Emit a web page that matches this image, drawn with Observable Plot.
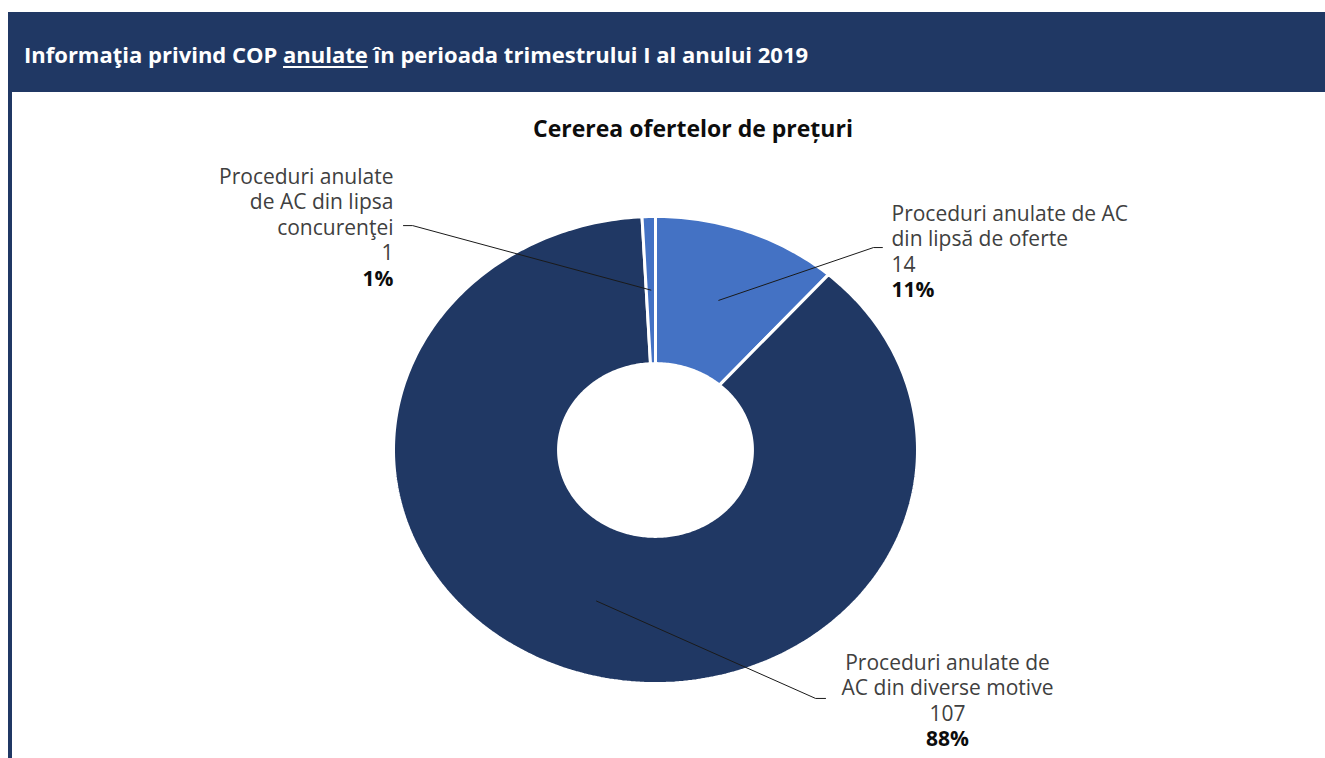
<!DOCTYPE html>
<html>
<head>
<meta charset="utf-8">
<script src="https://cdn.jsdelivr.net/npm/d3@7"></script>
<script src="https://cdn.jsdelivr.net/npm/@observablehq/plot@0.6"></script>
<style>
  html, body { margin: 0; padding: 0; background: #ffffff; overflow: hidden; }
  body { width: 1325px; height: 758px; position: relative; font-family: "Open Sans", sans-serif; }
  #header { position: absolute; left: 8px; top: 12px; width: 1301px; height: 80px; background: #203864;
            color: #fff; font-weight: 700; font-size: 22px; line-height: 84px; padding-left: 16px; white-space: nowrap; }
  #header u { text-decoration-thickness: 2px; text-underline-offset: 3px; }
  #leftbar { position: absolute; left: 8px; top: 92px; width: 4px; height: 666px; background: #203864; }
  #ctitle { position: absolute; left: 693px; top: 111px; transform: translateX(-50%); font-weight: 700;
            font-size: 23px; line-height: 34px; color: #0d0d0d; white-space: nowrap; }
  #chart { position: absolute; left: 12px; top: 140px; }
  #chart g[aria-label="text"] text tspan:last-child { font-weight: 700; fill: #0d0d0d; }
</style>
</head>
<body>
<div id="header">Informaţia privind COP <u>anulate</u> în perioada trimestrului I al anului 2019</div>
<div id="leftbar"></div>
<div id="ctitle">Cererea ofertelor de prețuri</div>
<div id="chart"></div>
<script>
// ---- data ----
const categories = [
  "Proceduri anulate de AC din lipsă de oferte",
  "Proceduri anulate de AC din diverse motive",
  "Proceduri anulate de AC din lipsa concurenţei"
];
const labelLines = [
  "Proceduri anulate de AC\ndin lipsă de oferte",
  "Proceduri anulate de\nAC din diverse motive",
  "Proceduri anulate\nde AC din lipsa\nconcurenţei"
];
const values = [14, 107, 1];
const colors = ["#4472c4", "#203864", "#4472c4"];

// ---- layout (unit-circle coordinates) ----
const W = 1313, H = 618, cx = 643, cy = 309.5, rx = 262, ry = 233.5;
const INNER = 0.37, OUTER = 1.0;
const LINE_PX = 25.5, FS = 21;
const labelLayout = [
  {x: 0.9008, y: 1.017, anchor: "start", start: [0.866, 0.867], elbow: [0.832, 0.867]},
  {x: 1.1145, y: -0.9058, anchor: "middle", start: [0.649, -1.064], elbow: [0.611, -1.064]},
  {x: -1.0, y: 1.1756, anchor: "end", start: [-0.962, 0.961], elbow: [-0.927, 0.961]}
];

const total = d3.sum(values);
const slices = [];
let acc = 0;
values.forEach((v, i) => {
  const a0 = acc / total * 2 * Math.PI;
  acc += v;
  const a1 = acc / total * 2 * Math.PI;
  slices.push({i, a0, a1, mid: (a0 + a1) / 2, value: v, pct: Math.round(v / total * 100) + "%"});
});

const pts = [];
for (const s of slices) {
  const N = Math.max(4, Math.ceil((s.a1 - s.a0) * 60));
  const ring = [];
  for (let k = 0; k <= N; k++) {
    const a = s.a0 + (s.a1 - s.a0) * k / N;
    ring.push({slice: s.i, x: OUTER * Math.sin(a), y: OUTER * Math.cos(a)});
  }
  for (let k = N; k >= 0; k--) {
    const a = s.a0 + (s.a1 - s.a0) * k / N;
    ring.push({slice: s.i, x: INNER * Math.sin(a), y: INNER * Math.cos(a)});
  }
  ring.push({...ring[0]});
  pts.push(ring);
}

const leaders = slices.map((s, i) => {
  const L = labelLayout[i];
  return [
    {slice: i, x: L.start[0], y: L.start[1]},
    {slice: i, x: L.elbow[0], y: L.elbow[1]},
    {slice: i, x: 0.685 * Math.sin(s.mid), y: 0.685 * Math.cos(s.mid)}
  ];
}).flat();

const labels = slices.map((s, i) => {
  const L = labelLayout[i];
  const text = labelLines[i] + "\n" + s.value + "\n" + s.pct;
  return {x: L.x, y: L.y, anchor: L.anchor, text, lines: text.split("\n").length};
});

const marks = [];
pts.forEach((ring, i) => {
  marks.push(Plot.line(ring, {x: "x", y: "y", fill: colors[i], stroke: "#ffffff", strokeWidth: 3, strokeLinejoin: "miter"}));
});
marks.push(Plot.line(leaders, {x: "x", y: "y", z: "slice", stroke: "#1a1a1a", strokeWidth: 1}));
for (const L of labels) {
  marks.push(Plot.text([L], {x: "x", y: "y", text: "text", textAnchor: L.anchor, lineAnchor: "middle",
    lineHeight: LINE_PX / FS, dy: (L.lines - 1) / 2 * LINE_PX, fontSize: FS, fill: "#404040"}));
}

const chart = Plot.plot({
  width: W, height: H, margin: 0,
  x: {domain: [-cx / rx, (W - cx) / rx], axis: null},
  y: {domain: [-(H - cy) / ry, cy / ry], axis: null},
  style: {fontFamily: "Open Sans", fontSize: "21px", background: "transparent", overflow: "visible"},
  marks
});
document.getElementById("chart").appendChild(chart);
</script>
</body>
</html>
